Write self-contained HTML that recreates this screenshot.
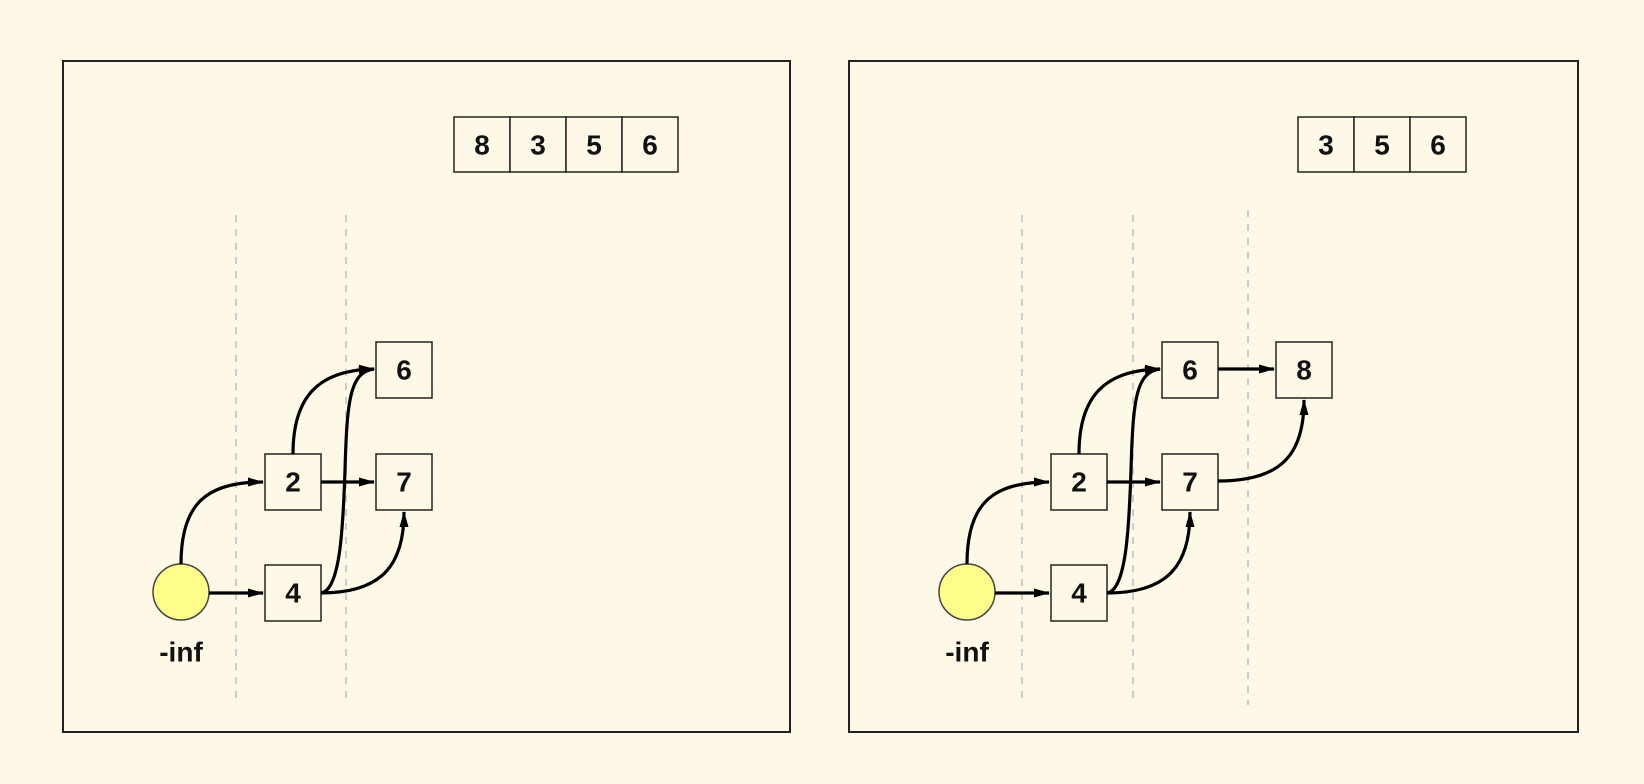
<!DOCTYPE html>
<html><head><meta charset="utf-8"><style>
html,body{margin:0;padding:0;background:#fef8e6;}
svg{display:block}
text{font-family:"Liberation Sans",sans-serif;font-weight:bold;font-size:28px;fill:#111;text-anchor:middle;dominant-baseline:central}
</style></head><body>
<svg width="1644" height="784" viewBox="0 0 1644 784" xmlns="http://www.w3.org/2000/svg">
<defs>
<marker id="b" viewBox="0 0 16 10" markerWidth="16" markerHeight="10" refX="15" refY="5" orient="auto" markerUnits="userSpaceOnUse">
<path d="M0,0.5 L16,5 L0,9.5 z" fill="#000"/></marker>
</defs>
<rect width="1644" height="784" fill="#fef8e6"/>

<g id="L">
<rect x="63" y="61" width="727" height="671" fill="none" stroke="#222" stroke-width="2"/>
<line x1="236" y1="215" x2="236" y2="705" stroke="#ccc" stroke-width="2" stroke-dasharray="7,7"/>
<line x1="346" y1="215" x2="346" y2="705" stroke="#ccc" stroke-width="2" stroke-dasharray="7,7"/>
<circle cx="181" cy="592" r="28" fill="#fdfd88" stroke="#444" stroke-width="1.5"/>
<text x="181" y="652">-inf</text>
<g fill="#fef8e6" stroke="#222" stroke-width="1.5">
<rect x="265" y="454" width="56" height="56"/>
<rect x="265" y="565" width="56" height="56"/>
<rect x="376" y="342" width="56" height="56"/>
<rect x="376" y="454" width="56" height="56"/>
</g>
<text x="293" y="482">2</text>
<text x="293" y="593">4</text>
<text x="404" y="370">6</text>
<text x="404" y="482">7</text>
<g fill="none" stroke="#000" stroke-width="3.2">
<path d="M181,564 C181,505 205,482 263,482" marker-end="url(#b)"/>
<path d="M209,593 L263,593" marker-end="url(#b)"/>
<path d="M293,454 C293,395 320,370 374,369" marker-end="url(#b)"/>
<path d="M321,482 L374,482" marker-end="url(#b)"/>
<path d="M321,593 C340,590 343,530 345,470 C347,400 350,372 374,369" marker-end="url(#b)"/>
<path d="M321,593 C382,593 404,565 404,512" marker-end="url(#b)"/>
</g>
</g>

<g transform="translate(786,0)">
<rect x="63" y="61" width="729" height="671" fill="none" stroke="#222" stroke-width="2"/>
<line x1="236" y1="215" x2="236" y2="705" stroke="#ccc" stroke-width="2" stroke-dasharray="7,7"/>
<line x1="347" y1="215" x2="347" y2="705" stroke="#ccc" stroke-width="2" stroke-dasharray="7,7"/>
<line x1="462" y1="210" x2="462" y2="705" stroke="#ccc" stroke-width="2" stroke-dasharray="7,7"/>
<circle cx="181" cy="592" r="28" fill="#fdfd88" stroke="#444" stroke-width="1.5"/>
<text x="181" y="652">-inf</text>
<g fill="#fef8e6" stroke="#222" stroke-width="1.5">
<rect x="265" y="454" width="56" height="56"/>
<rect x="265" y="565" width="56" height="56"/>
<rect x="376" y="342" width="56" height="56"/>
<rect x="376" y="454" width="56" height="56"/>
<rect x="490" y="342" width="56" height="56"/>
</g>
<text x="293" y="482">2</text>
<text x="293" y="593">4</text>
<text x="404" y="370">6</text>
<text x="404" y="482">7</text>
<text x="518" y="370">8</text>
<g fill="none" stroke="#000" stroke-width="3.2">
<path d="M181,564 C181,505 205,482 263,482" marker-end="url(#b)"/>
<path d="M209,593 L263,593" marker-end="url(#b)"/>
<path d="M293,454 C293,395 320,370 374,369" marker-end="url(#b)"/>
<path d="M321,482 L374,482" marker-end="url(#b)"/>
<path d="M321,593 C340,590 343,530 345,470 C347,400 350,372 374,369" marker-end="url(#b)"/>
<path d="M321,593 C382,593 404,565 404,512" marker-end="url(#b)"/>
<path d="M432,369 L488,369" marker-end="url(#b)"/>
<path d="M432,481 C495,481 518,455 518,400" marker-end="url(#b)"/>
</g>
</g>

<g fill="#fef8e6" stroke="#222" stroke-width="1.5">
<rect x="454" y="117" width="56" height="55"/><rect x="510" y="117" width="56" height="55"/>
<rect x="566" y="117" width="56" height="55"/><rect x="622" y="117" width="56" height="55"/>
<rect x="1298" y="117" width="56" height="55"/><rect x="1354" y="117" width="56" height="55"/>
<rect x="1410" y="117" width="56" height="55"/>
</g>
<text x="482" y="145">8</text><text x="538" y="145">3</text><text x="594" y="145">5</text><text x="650" y="145">6</text>
<text x="1326" y="145">3</text><text x="1382" y="145">5</text><text x="1438" y="145">6</text>
</svg>
</body></html>
